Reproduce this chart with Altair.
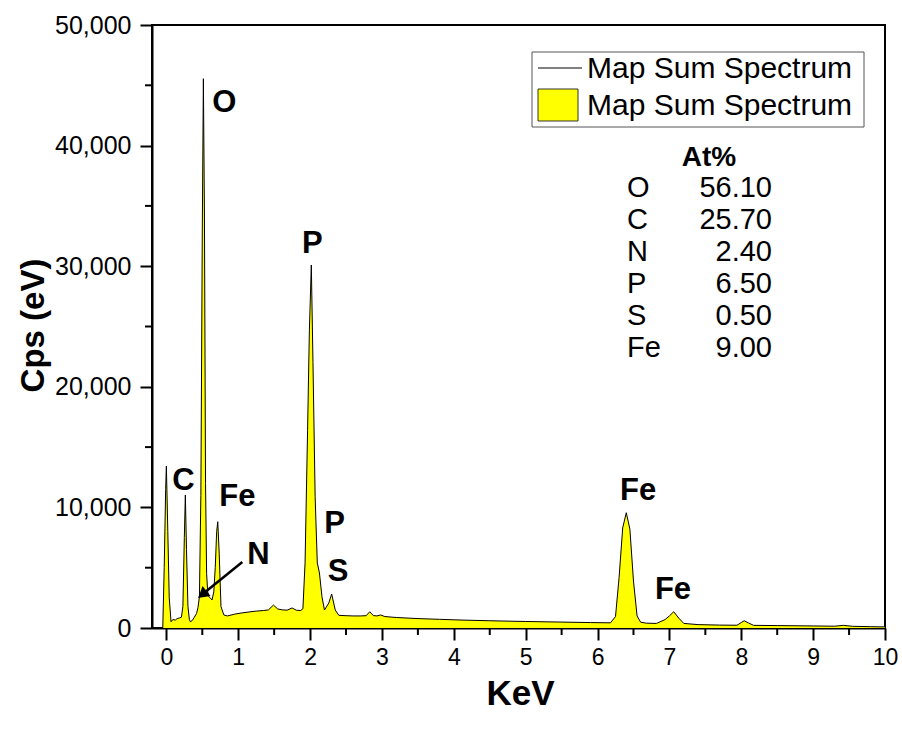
import altair as alt
import pandas as pd

# ---------------- data ----------------
energy_kev = [-0.05, -0.03, -0.01, 0.00, 0.02, 0.04, 0.065, 0.09, 0.125, 0.15, 0.18, 0.21,
              0.23, 0.25, 0.264, 0.28, 0.30, 0.32, 0.334, 0.36, 0.39, 0.42, 0.44, 0.46,
              0.48, 0.50, 0.515, 0.53, 0.545, 0.56, 0.575, 0.59, 0.61, 0.635, 0.66, 0.68,
              0.70, 0.715, 0.735, 0.76, 0.80, 0.85, 0.95, 1.05, 1.15, 1.25, 1.35, 1.42,
              1.49, 1.55, 1.62, 1.68, 1.75, 1.81, 1.87, 1.90, 1.93, 1.965, 1.99, 2.017,
              2.04, 2.07, 2.10, 2.13, 2.165, 2.20, 2.26, 2.30, 2.35, 2.40, 2.50, 2.60,
              2.70, 2.78, 2.83, 2.88, 2.93, 2.98, 3.04, 3.2, 3.5, 3.8, 4.1, 4.5, 5.0, 5.5,
              5.9, 6.18, 6.25, 6.30, 6.35, 6.40, 6.45, 6.50, 6.55, 6.60, 6.68, 6.82, 6.94,
              7.0, 7.06, 7.13, 7.2, 7.4, 7.7, 7.94, 8.0, 8.04, 8.1, 8.17, 8.5, 9.0, 9.3,
              9.42, 9.55, 9.8, 10.0]
counts_cps = [0, 5000, 11500, 13430, 8000, 2500, 520, 700, 660, 780, 830, 900,
              1800, 7500, 11030, 6500, 1800, 700, 520, 620, 900, 1200, 1700, 2600,
              11000, 33000, 45550, 34000, 12000, 4500, 3010, 2600, 2500, 2320, 3000, 5000,
              8000, 8810, 6200, 1770, 1080, 1000, 1150, 1250, 1330, 1400, 1450, 1500,
              1900, 1575, 1500, 1480, 1660, 1470, 1450, 1600, 5400, 16400, 24700, 30100,
              22000, 10900, 5400, 4560, 2600, 1490, 2070, 2820, 1490, 1050, 1020, 1000,
              1000, 1020, 1350, 1030, 1000, 1080, 950, 870, 780, 720, 660, 600, 540, 490,
              450, 430, 950, 4200, 8300, 9560, 8200, 3900, 1000, 480, 400, 380, 700,
              1000, 1350, 820, 380, 280, 240, 230, 450, 600, 420, 220, 200, 170, 150,
              220, 140, 110, 90]

x_major = [0, 1, 2, 3, 4, 5, 6, 7, 8, 9, 10]
x_minor = [0.5, 1.5, 2.5, 3.5, 4.5, 5.5, 6.5, 7.5, 8.5, 9.5]
y_major = [0, 10000, 20000, 30000, 40000, 50000]
y_minor = [5000, 15000, 25000, 35000, 45000]

peak_names = ["O", "P", "C", "Fe", "N", "P", "S", "Fe", "Fe"]
peak_label_kev = [0.807, 2.03, 0.236, 0.987, 1.28, 2.34, 2.39, 6.565, 7.05]
peak_label_cps = [43530, 31840, 12190, 10860, 6050, 8620, 4640, 11360, 3150]

arrow_kev = [1.057]
arrow_cps = [5470]
arrow_end_kev = [0.52]
arrow_end_cps = [2880]
arrow_head_kev = [0.50]
arrow_head_cps = [2780]

legend_label = "Map Sum Spectrum"
table_title = "At%"
elements = ["O", "C", "N", "P", "S", "Fe"]
at_percent = ["56.10", "25.70", "2.40", "6.50", "0.50", "9.00"]

# ---------------- layout ----------------
W, H = 733, 603
L, T = 152, 25
FONT = "Liberation Sans, Arial, sans-serif"

xs = alt.Scale(domain=[-0.2, 10], nice=False, zero=False)
ys = alt.Scale(domain=[0, 50000], nice=False, zero=False)

xaxis = alt.Axis(values=x_major, format="d", tickSize=12, tickWidth=2, tickColor="black",
                 domainColor="black", domainWidth=2, grid=False, labelFlush=False,
                 labelOverlap=False, labelFont=FONT, labelFontSize=23, labelColor="black",
                 labelPadding=6, title="KeV", titleFont=FONT, titleFontSize=35,
                 titleFontWeight="bold", titleColor="black", titleX=520 - L, titleY=704 - (T + H),
                 titleAlign="center", titleBaseline="alphabetic")
yaxis = alt.Axis(values=y_major, format=",d", tickSize=12, tickWidth=2, tickColor="black",
                 domainColor="black", domainWidth=2, grid=False, labelFlush=False,
                 labelOverlap=False, labelFont=FONT, labelFontSize=25, labelColor="black",
                 labelPadding=9, title="Cps (eV)", titleFont=FONT, titleFontSize=33,
                 titleFontWeight="bold", titleColor="black", titleAngle=270,
                 titleX=33 - L, titleY=325 - T, titleAlign="center", titleBaseline="middle")

spec = pd.DataFrame({"energy": energy_kev, "counts": counts_cps})

area = alt.Chart(spec).mark_area(color="#FFFF00", clip=True).encode(
    x=alt.X("energy:Q", scale=xs, axis=xaxis),
    y=alt.Y("counts:Q", scale=ys, axis=yaxis),
)
line = alt.Chart(spec).mark_line(color="black", strokeWidth=1, clip=True).encode(
    x=alt.X("energy:Q", scale=xs, axis=xaxis),
    y=alt.Y("counts:Q", scale=ys, axis=yaxis),
)

xminor = alt.Chart(pd.DataFrame({"v": x_minor})).mark_rule(color="black", strokeWidth=2).encode(
    x=alt.X("v:Q", scale=xs, axis=xaxis), y=alt.value(H), y2=alt.value(H + 7))
yminor = alt.Chart(pd.DataFrame({"v": y_minor})).mark_rule(color="black", strokeWidth=2).encode(
    y=alt.Y("v:Q", scale=ys, axis=yaxis), x=alt.value(-7), x2=alt.value(0))

peaks = alt.Chart(pd.DataFrame({"name": peak_names, "kev": peak_label_kev, "cps": peak_label_cps})
                  ).mark_text(font=FONT, fontSize=31, fontWeight="bold", color="black",
                              align="center", baseline="middle").encode(
    x=alt.X("kev:Q", scale=xs, axis=xaxis), y=alt.Y("cps:Q", scale=ys, axis=yaxis), text="name:N")

arrow_df = pd.DataFrame({"k1": arrow_kev, "c1": arrow_cps, "k2": arrow_end_kev, "c2": arrow_end_cps,
                         "hk": arrow_head_kev, "hc": arrow_head_cps})
arrow_line = alt.Chart(arrow_df).mark_rule(color="black", strokeWidth=2.5).encode(
    x=alt.X("k1:Q", scale=xs, axis=xaxis), y=alt.Y("c1:Q", scale=ys, axis=yaxis),
    x2="k2:Q", y2="c2:Q")
arrow_head = alt.Chart(arrow_df).mark_point(shape="triangle-up", filled=True, color="black",
                                            opacity=1, size=160, angle=231).encode(
    x=alt.X("hk:Q", scale=xs, axis=xaxis), y=alt.Y("hc:Q", scale=ys, axis=yaxis))

one = pd.DataFrame({"a": [0]})


def txt(s, px, py, size=29, weight="normal", align="left"):
    return alt.Chart(one).mark_text(font=FONT, fontSize=size, fontWeight=weight, color="black",
                                    align=align, baseline="middle").encode(
        x=alt.value(px - L), y=alt.value(py - T), text=alt.value(s))


legend_box = alt.Chart(one).mark_rect(fill="white", stroke="#555555", strokeWidth=1).encode(
    x=alt.value(532 - L), x2=alt.value(864 - L), y=alt.value(52 - T), y2=alt.value(127 - T))
legend_line = alt.Chart(one).mark_rule(color="black", strokeWidth=1).encode(
    x=alt.value(538 - L), x2=alt.value(582 - L), y=alt.value(68 - T))
legend_rect = alt.Chart(one).mark_rect(fill="#FFFF00", stroke="#333333", strokeWidth=1).encode(
    x=alt.value(538 - L), x2=alt.value(578 - L), y=alt.value(89 - T), y2=alt.value(121 - T))

layers = [area, line, xminor, yminor, peaks, arrow_line, arrow_head,
          legend_box, legend_line, legend_rect,
          txt(legend_label, 587, 69, size=30), txt(legend_label, 587, 106, size=30),
          txt(table_title, 709, 158, size=28, weight="bold", align="center")]
for i, (el, val) in enumerate(zip(elements, at_percent)):
    yy = 188 + 32 * i
    layers.append(txt(el, 627, yy))
    layers.append(txt(val, 772, yy, align="right"))

chart = alt.layer(*layers).properties(
    width=W, height=H,
    autosize=alt.AutoSizeParams(type="none"),
    padding={"left": L, "top": T, "right": 902 - L - W, "bottom": 729 - T - H},
    background="white",
).configure_view(stroke="black", strokeWidth=2)

chart.save("out.html", embed_options={"renderer": "svg", "actions": False})
